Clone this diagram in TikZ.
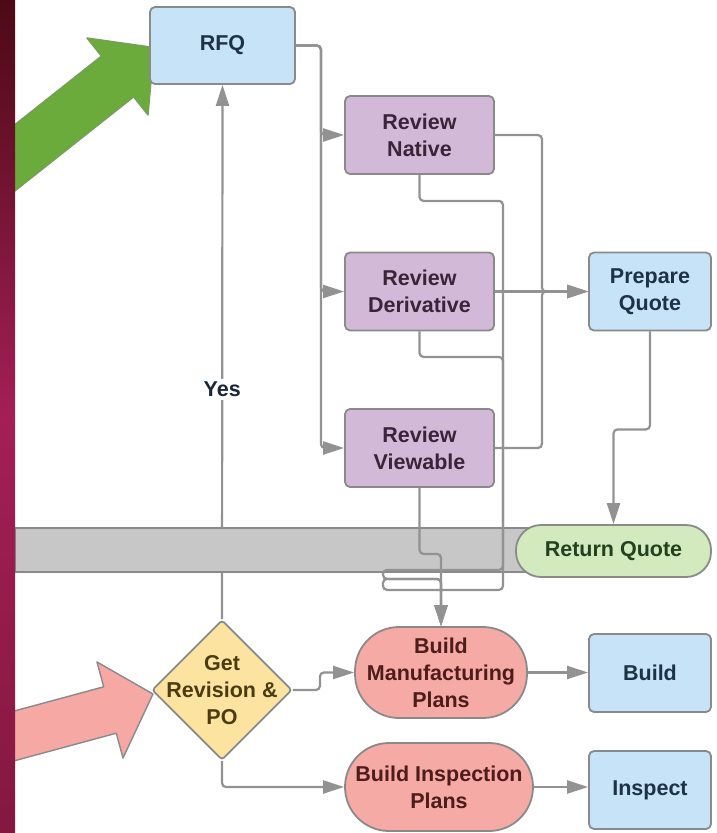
\documentclass[tikz,border=0pt]{standalone}
\usepackage{fontspec}
\setmainfont{Liberation Sans}
\usetikzlibrary{shapes.geometric,arrows.meta,backgrounds}
\definecolor{qblue}{HTML}{C6E3F7}
\definecolor{rpurple}{HTML}{D3B9D8}
\definecolor{ppink}{HTML}{F5AAA5}
\definecolor{rgreen}{HTML}{D3EABE}
\definecolor{dyellow}{HTML}{FCE4A0}
\definecolor{bandgray}{HTML}{C7C7C7}
\definecolor{linegray}{HTML}{8A8A8A}
\definecolor{linkgray}{HTML}{929292}
\definecolor{bluetext}{HTML}{1E3246}
\definecolor{purpletext}{HTML}{3B2438}
\definecolor{pinktext}{HTML}{4E1C1A}
\definecolor{greentext}{HTML}{23401F}
\definecolor{yellowtext}{HTML}{4B3B12}
\definecolor{arrowgreen}{HTML}{6BAB3B}
\definecolor{arrowpink}{HTML}{F5A8A4}
\definecolor{stripetop}{HTML}{4C0A16}
\definecolor{stripemid}{HTML}{A31F56}
\definecolor{stripebot}{HTML}{84183F}

\begin{document}
\begin{tikzpicture}[x=1pt,y=1pt,
  every node/.append style={font=\fontsize{21.5}{27}\selectfont\bfseries},
  box/.style={draw=linegray, line width=1.8pt, rounded corners=5pt, align=center, inner sep=0pt, minimum height=78pt},
  bluebox/.style={box, fill=qblue, text=bluetext, minimum width=122pt},
  review/.style={box, fill=rpurple, text=purpletext, minimum width=149pt},
  plan/.style={box, fill=ppink, text=pinktext, rounded corners=44pt, minimum height=89pt},
  endnode/.style={box, fill=rgreen, text=greentext, rounded corners=25pt, minimum height=52pt, minimum width=195pt},
  decision/.style={diamond, aspect=1, draw=linegray, line width=1.8pt, fill=dyellow, minimum size=140pt, inner sep=0pt, rounded corners=3pt},
  dectext/.style={text=yellowtext, align=center},
  link/.style={draw=linkgray, line width=2.2pt, rounded corners=4pt, -{Triangle[length=21pt,width=13pt]}},
  blockarrow/.style={draw=linegray, line width=1.4pt, line join=round}]
\useasboundingbox (0,0) rectangle (717,-833);

\node[bluebox, minimum width=145pt, minimum height=77pt] (rfq) at (222.5,-45.5) {RFQ};
\node[review] (nat) at (419.5,-135) {Review\\Native};
\node[review] (der) at (419.5,-291.5) {Review\\Derivative};
\node[review] (vie) at (419.5,-448) {Review\\Viewable};
\node[bluebox] (prep) at (650,-291.5) {Prepare\\Quote};
\node[endnode] (ret) at (613.5,-551) {Return Quote};
\node[decision, label={[dectext]center:Get\\Revision \&\\PO}] (rev) at (222,-690) {};
\node[plan, minimum width=172pt, minimum height=91pt] (bmp) at (441,-672.5) {Build\\Manufacturing\\Plans};
\node[bluebox] (bld) at (650,-673) {Build};
\node[plan, minimum width=188pt, minimum height=88pt] (bip) at (439,-787) {Build Inspection\\Plans};
\node[bluebox] (insp) at (650,-790) {Inspect};

\begin{scope}[on background layer]
\fill[white] (0,0) rectangle (717,-833);
\draw[link] (rev.north) -- node[pos=0.43, fill=white, inner sep=3pt, text=bluetext!80!black] {Yes} (rfq.south);
\draw[draw=linegray, line width=1.4pt, fill=bandgray] (15,-528) rectangle (660,-572);
\draw[blockarrow, fill=arrowgreen, draw=arrowgreen!60!linegray] (154,-47.5) -- (87,-38) -- (101.4,-56.1) -- (-55.4,-180.3) -- (-23.2,-221.1) -- (133.6,-96.9) -- (148,-115) -- cycle;
\draw[blockarrow, fill=arrowpink] (153,-694) -- (97,-662) -- (103.7,-686.8) -- (-89.3,-739) -- (-76.7,-785.4) -- (116.3,-733.2) -- (123,-758) -- cycle;
\end{scope}

\draw[link] (rfq.east) -- ++(25,0) |- (nat.west);
\draw[link] (rfq.east) -- ++(25,0) |- (der.west);
\draw[link] (rfq.east) -- ++(25,0) |- (vie.west);
\draw[link] (nat.east) -- ++(47,0) |- (prep.west);
\draw[link] (der.east) -- (prep.west);
\draw[link] (vie.east) -- ++(47,0) |- (prep.west);
\draw[link] (prep.south) -- ++(0,-98) -| (ret.north);
\draw[link] (nat.south) -- ++(0,-26) -| ++(83.5,-369) -- ++(-120,0) -- ++(0,-9) -| (bmp.north);
\draw[link] (der.south) -- ++(0,-25.5) -| ++(83.5,-233) -- ++(-120,0) -- ++(0,11) -| (bmp.north);
\draw[link] (vie.south) -- ++(0,-66) -| (bmp.north);
\draw[link] (rev.east) -- ++(27,0) |- (bmp.west);
\draw[link] (rev.south) |- (bip.west);
\draw[link] (bmp.east) -- (bmp.east -| bld.west);
\draw[link] (bip.east) -- (bip.east -| insp.west);

\shade[top color=stripetop, bottom color=stripebot, middle color=stripemid] (0,0) rectangle (15,-833);
\end{tikzpicture}
\end{document}
